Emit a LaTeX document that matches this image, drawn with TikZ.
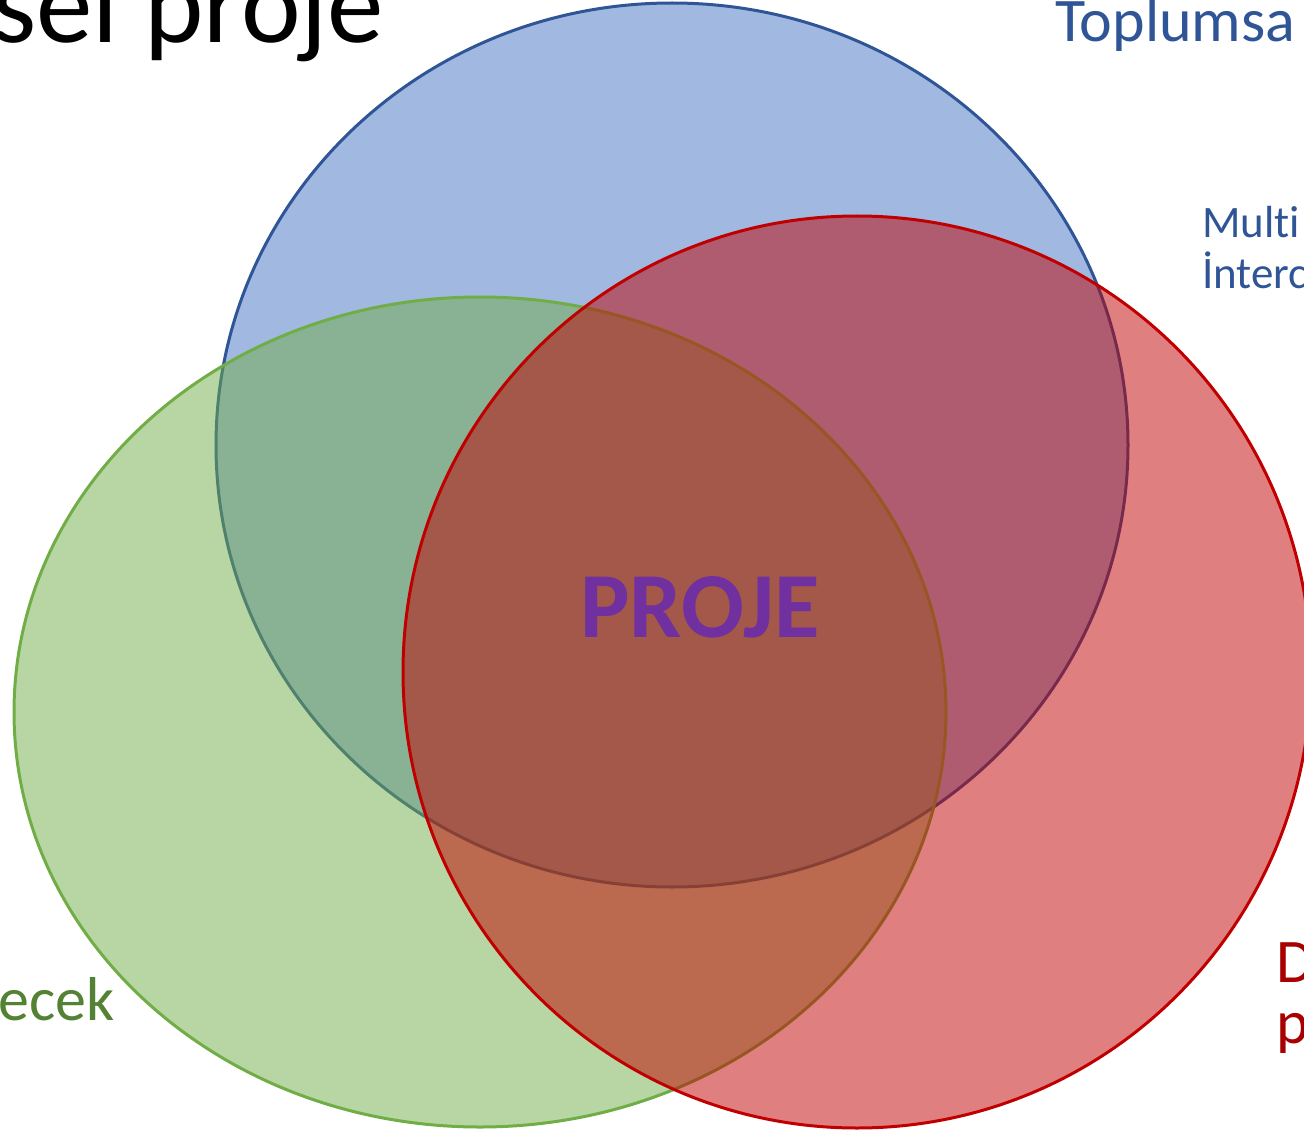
\documentclass[tikz,border=0pt]{standalone}
\usepackage{fontspec}
\setmainfont{Carlito}[Ligatures=NoCommon]
\definecolor{mavi}{HTML}{4472C4}
\definecolor{maviCizgi}{HTML}{2F5597}
\definecolor{yesil}{HTML}{70AD47}
\definecolor{yesilYazi}{HTML}{548235}
\definecolor{kirmizi}{HTML}{C00000}
\definecolor{kirmiziYazi}{HTML}{A80000}
\definecolor{mor}{HTML}{7030A0}
\begin{document}
\begin{tikzpicture}[x=1pt,y=-1pt, line join=round, line cap=round]
	\def\lw{3pt} % cizgi kalinligi
	\tikzset{kume/.style={fill opacity=.5, line width=\lw},
		etiket/.style={anchor=base west, inner sep=0pt, align=left, font=\fontsize{62}{61}\selectfont}}
	\useasboundingbox (0,0) rectangle (1304,1134);
	% kumeler
	\filldraw[kume, fill=mavi, draw=maviCizgi] (672,445) ellipse [x radius=456pt, y radius=442pt];
	\filldraw[kume, fill=yesil, draw=yesil] (480,712) ellipse [x radius=466pt, y radius=415pt];
	\filldraw[kume, fill=kirmizi, draw=kirmizi] (857,672) ellipse [x radius=454pt, y radius=456pt];
	% yazilar
	\node[etiket, font=\fontsize{113}{120}\selectfont] (baslik) at (-8,43) {sel proje};
	\node[etiket, text=maviCizgi] (toplum) at (1055,42) {Toplumsa};
	\node[etiket, text=maviCizgi, font=\fontsize{45}{51}\selectfont] (multi) at (1202,288) {Multi\\İnterc};
	\node[etiket, text=yesilYazi] (ecek) at (-2,1020) {ecek};
	\node[etiket, text=kirmiziYazi] (dp) at (1276,1043) {D\\p};
	\node[text=mor, font=\fontsize{93}{93}\selectfont\bfseries] (proje) at (700,607) {PROJE};
\end{tikzpicture}
\end{document}
